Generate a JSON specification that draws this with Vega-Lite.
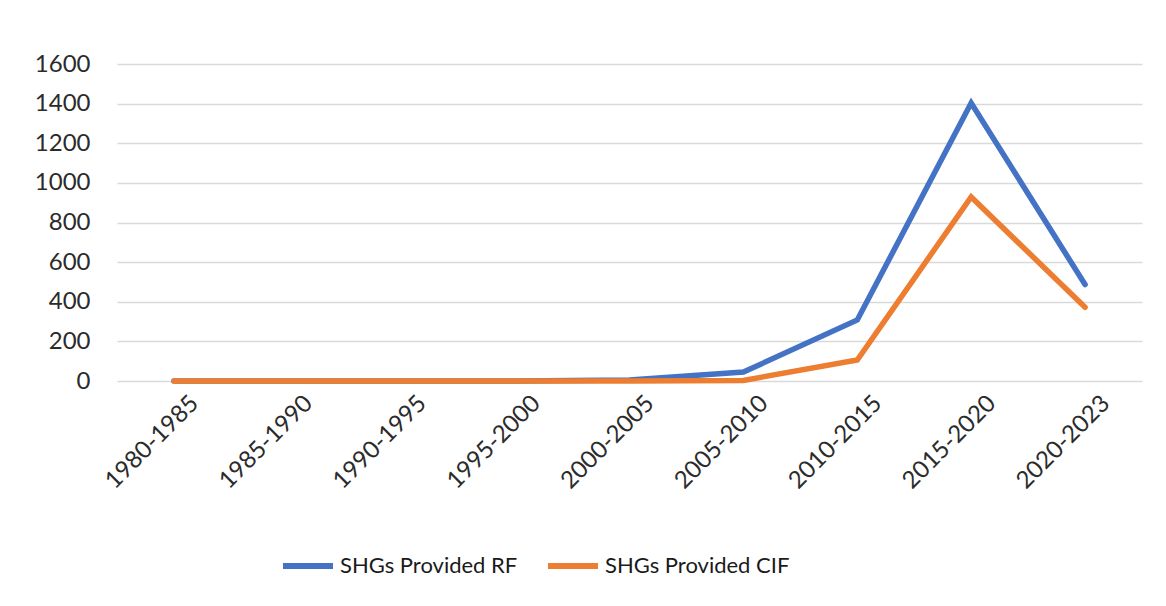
{
  "$schema": "https://vega.github.io/schema/vega-lite/v6.json",
  "autosize": {"type": "none"},
  "width": 1025,
  "height": 317,
  "padding": {"left": 117, "top": 64, "right": 24, "bottom": 225},
  "background": "white",
  "data": {
    "values": [
      {"period": "1980-1985", "series": "SHGs Provided RF", "value": 0},
      {"period": "1985-1990", "series": "SHGs Provided RF", "value": 0},
      {"period": "1990-1995", "series": "SHGs Provided RF", "value": 0},
      {"period": "1995-2000", "series": "SHGs Provided RF", "value": 0},
      {"period": "2000-2005", "series": "SHGs Provided RF", "value": 5},
      {"period": "2005-2010", "series": "SHGs Provided RF", "value": 45},
      {"period": "2010-2015", "series": "SHGs Provided RF", "value": 308},
      {"period": "2015-2020", "series": "SHGs Provided RF", "value": 1403},
      {"period": "2020-2023", "series": "SHGs Provided RF", "value": 487},
      {"period": "1980-1985", "series": "SHGs Provided CIF", "value": 0},
      {"period": "1985-1990", "series": "SHGs Provided CIF", "value": 0},
      {"period": "1990-1995", "series": "SHGs Provided CIF", "value": 0},
      {"period": "1995-2000", "series": "SHGs Provided CIF", "value": 0},
      {"period": "2000-2005", "series": "SHGs Provided CIF", "value": 0},
      {"period": "2005-2010", "series": "SHGs Provided CIF", "value": 3},
      {"period": "2010-2015", "series": "SHGs Provided CIF", "value": 106},
      {"period": "2015-2020", "series": "SHGs Provided CIF", "value": 929},
      {"period": "2020-2023", "series": "SHGs Provided CIF", "value": 372}
    ]
  },
  "mark": {"type": "line", "strokeWidth": 5.5, "strokeCap": "round", "strokeJoin": "miter"},
  "encoding": {
    "x": {
      "field": "period",
      "type": "ordinal",
      "sort": null,
      "scale": {"type": "point", "padding": 0.5},
      "axis": {
        "title": null,
        "labelAngle": -45,
        "labelFontSize": 24,
        "labelFont": "Lato",
        "labelColor": "#2b2b2b",
        "ticks": false,
        "domain": false,
        "grid": false,
        "labelPadding": 10,
        "labelOffset": 12
      }
    },
    "y": {
      "field": "value",
      "type": "quantitative",
      "scale": {"domain": [0, 1600], "nice": false},
      "axis": {
        "title": null,
        "values": [0, 200, 400, 600, 800, 1000, 1200, 1400, 1600],
        "format": "d",
        "labelFontSize": 24,
        "labelFont": "Lato",
        "labelColor": "#2b2b2b",
        "ticks": false,
        "domain": false,
        "grid": true,
        "gridColor": "#d9d9d9",
        "gridWidth": 1.5,
        "labelPadding": 27
      }
    },
    "color": {
      "field": "series",
      "type": "nominal",
      "sort": ["SHGs Provided RF", "SHGs Provided CIF"],
      "scale": {"domain": ["SHGs Provided RF", "SHGs Provided CIF"], "range": ["#4472C4", "#ED7D31"]},
      "legend": {
        "title": null,
        "orient": "none",
        "legendX": 163,
        "legendY": 474,
        "direction": "horizontal",
        "symbolType": "stroke",
        "symbolStrokeWidth": 6,
        "symbolSize": 2500,
        "labelFontSize": 22,
        "labelFont": "Lato",
        "labelColor": "#1a1a1a",
        "labelLimit": 0,
        "columnPadding": 18,
        "labelOffset": 4
      }
    }
  },
  "config": {"view": {"stroke": null}}
}
